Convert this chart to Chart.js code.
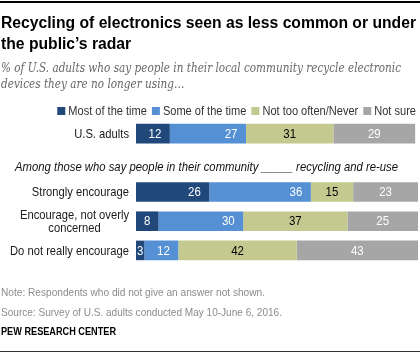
<!DOCTYPE html>
<html><head><meta charset="utf-8">
<script src="https://cdn.jsdelivr.net/npm/chart.js@4"></script>
<style>
html,body{margin:0;padding:0;background:#fff;}
#wrap{position:relative;width:420px;height:357px;overflow:hidden;background:#fff;}
#c{position:absolute;left:0;top:0;width:420px;height:357px;}
.t{position:absolute;left:1px;white-space:nowrap;transform-origin:0 0;}
.sans{font-family:'Liberation Sans',Arial,sans-serif;}
</style></head><body>
<div id="wrap">
<canvas id="c" width="420" height="357"></canvas>
<div style="position:absolute;left:0;top:1px;width:420px;height:2px;background:#000"></div>
<div class="t sans fit" data-w="415" data-g="title" style="top:12px;font-weight:bold;font-size:16px;line-height:21px;color:#000">Recycling of electronics seen as less common or under</div>
<div class="t sans fit" data-g="title" style="top:33px;font-weight:bold;font-size:16px;line-height:21px;color:#000">the public’s radar</div>
<div class="t fit" data-w="400" data-g="sub" style="top:59.7px;font-family:'DejaVu Serif',serif;font-style:italic;font-size:12.5px;line-height:16px;color:#666">% of U.S. adults who say people in their local community recycle electronic</div>
<div class="t fit" data-g="sub" style="top:75.7px;font-family:'DejaVu Serif',serif;font-style:italic;font-size:12.5px;line-height:16px;color:#666">devices they are no longer using…</div>
<div class="t sans fit" data-w="264" data-g="note" style="top:285.2px;font-size:11px;line-height:14px;color:#8c8c8c">Note: Respondents who did not give an answer not shown.</div>
<div class="t sans fit" data-w="281" data-g="src" style="top:305.2px;font-size:11px;line-height:14px;color:#8c8c8c">Source: Survey of U.S. adults conducted May 10-June 6, 2016.</div>
<div class="t sans fit" data-w="115" data-g="pew" style="top:324.2px;font-weight:bold;font-size:11px;line-height:14px;color:#000">PEW RESEARCH CENTER</div>
<div style="position:absolute;left:0;top:350.5px;width:420px;height:1px;background:#333"></div>
</div>
<script>
const categories = ['U.S. adults', '', 'Strongly encourage', ['Encourage, not overly', 'concerned'], 'Do not really encourage'];
const seriesNames = ['Most of the time', 'Some of the time', 'Not too often/Never', 'Not sure'];
const mostOfTheTime = [12, null, 26, 8, 3];
const someOfTheTime = [27, null, 36, 30, 12];
const notTooOften = [31, null, 15, 37, 42];
const notSure = [29, null, 23, 25, 43];
const groupNote = 'Among those who say people in their community _____ recycling and re-use';

// fit HTML text blocks horizontally (narrow-font look)
(function () {
  const groups = {};
  document.querySelectorAll('.fit').forEach(el => {
    const g = el.dataset.g;
    (groups[g] = groups[g] || []).push(el);
  });
  Object.values(groups).forEach(els => {
    const first = els.find(e => e.dataset.w);
    const s = parseFloat(first.dataset.w) / first.getBoundingClientRect().width;
    els.forEach(e => { e.style.transform = 'scaleX(' + s + ')'; });
  });
})();

const colors = ['#21487b', '#5590d5', '#c4c98f', '#a6a6a6'];
const labelColors = ['#fff', '#fff', '#000', '#fff'];
const FONT = "'Liberation Sans',Arial,sans-serif";
const SX = 0.85;

function drawText(ctx, txt, x, y, align, sx) {
  const w = ctx.measureText(txt).width * sx;
  let left = x;
  if (align === 'center') left = x - w / 2;
  else if (align === 'right') left = x - w;
  ctx.save();
  ctx.translate(left, y);
  ctx.scale(sx, 1);
  ctx.textAlign = 'left';
  ctx.fillText(txt, 0, 0);
  ctx.restore();
  return w;
}

const drawPlugin = {
  id: 'drawExtras',
  afterDatasetsDraw(chart) {
    const ctx = chart.ctx;
    const yScale = chart.scales.y;
    ctx.save();
    ctx.textBaseline = 'middle';
    // value labels
    ctx.font = '13.5px ' + FONT;
    chart.data.datasets.forEach((ds, di) => {
      const meta = chart.getDatasetMeta(di);
      meta.data.forEach((bar, i) => {
        const v = ds.data[i];
        if (v == null) return;
        const left = Math.min(bar.x, bar.base), right = Math.max(bar.x, bar.base);
        const txt = String(v);
        const tw = ctx.measureText(txt).width * SX;
        const pad = 8.5;
        let x = (left + right) / 2;
        if (di < 2 && right - left >= tw + 2 * pad) x = right - pad - tw / 2;
        ctx.fillStyle = labelColors[di];
        drawText(ctx, txt, x, bar.y + 0.5, 'center', SX);
      });
    });
    // category labels
    ctx.fillStyle = '#1a1a1a';
    ctx.font = '13.5px ' + FONT;
    const lsx = 119 / ctx.measureText('Do not really encourage').width;
    categories.forEach((lab, i) => {
      if (!lab) return;
      const y = yScale.getPixelForValue(i);
      const lines = Array.isArray(lab) ? lab : [lab];
      const lh = 13;
      const maxW = Math.max(...lines.map(l => ctx.measureText(l).width)) * lsx;
      const rightX = 129;
      lines.forEach((l, k) => {
        drawText(ctx, l, rightX - maxW / 2, y + 0.5 + (k - (lines.length - 1) / 2) * lh, 'center', lsx);
      });
    });
    // group note in spacer row
    ctx.font = 'italic 13px ' + FONT;
    ctx.fillStyle = '#111';
    const gsx = 383 / ctx.measureText(groupNote).width;
    drawText(ctx, groupNote, 15, yScale.getPixelForValue(1) + 5, 'left', gsx);
    // legend
    ctx.font = '13px ' + FONT;
    const sq = 8, gapSq = 3, gapItem = 5;
    const widths = seriesNames.map(n => sq + gapSq + ctx.measureText(n).width * SX);
    const total = widths.reduce((a, b) => a + b, 0) + gapItem * (seriesNames.length - 1);
    let x = 416 - total;
    const ly = 111;
    seriesNames.forEach((n, i) => {
      ctx.fillStyle = colors[i];
      ctx.fillRect(x, ly - sq / 2, sq, sq);
      ctx.fillStyle = '#333';
      drawText(ctx, n, x + sq + gapSq, ly + 0.5, 'left', SX);
      x += widths[i] + gapItem;
    });
    ctx.restore();
  }
};

const series = [mostOfTheTime, someOfTheTime, notTooOften, notSure];
new Chart(document.getElementById('c'), {
  type: 'bar',
  data: {
    labels: categories,
    datasets: series.map((d, i) => ({
      label: seriesNames[i],
      data: d,
      backgroundColor: colors[i],
      borderWidth: 0,
      categoryPercentage: 0.67,
      barPercentage: 1
    }))
  },
  options: {
    indexAxis: 'y',
    responsive: false,
    animation: false,
    devicePixelRatio: 1,
    layout: { padding: { left: 136, right: 2, top: 119, bottom: 92 } },
    plugins: { legend: { display: false }, tooltip: { enabled: false } },
    scales: {
      x: { stacked: true, min: 0, max: 100, display: false },
      y: { stacked: true, display: false }
    }
  },
  plugins: [drawPlugin]
});
</script>
</body></html>
